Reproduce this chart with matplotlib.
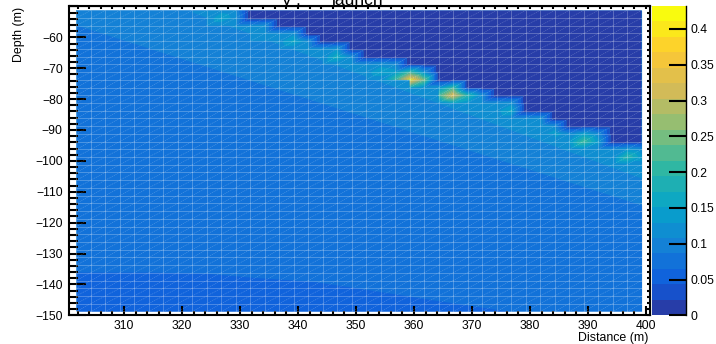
import numpy as np
import matplotlib as mpl
mpl.use('Agg')
import matplotlib.pyplot as plt
import matplotlib.tri as mtri
from matplotlib.collections import LineCollection
from matplotlib.colors import LinearSegmentedColormap, ListedColormap
from matplotlib.ticker import MultipleLocator
from matplotlib import rcParams as rc

rc.update({'font.size': 8.7, 'font.family': 'Liberation Sans'})

# mesh nodes of the simulation grid
mesh_x = 301.75 + 2.5 * np.arange(40)
mesh_y = -51.25 - 2.5 * np.arange(40)

# first wet row per column, from column 9 onward
first_col = 9
seabed_row = [0, 0, 0, 2, 2, 3, 3, 4, 5, 5, 6, 7, 7, 7, 8, 8, 10, 10, 11, 11, 12, 12, 14, 14, 15, 16, 16, 16, 18, 18, 18]

# values on the three rows just under the seabed
crest_1 = [.11, .12, .11, .11, .12, .11, .12, .11, .11, .13, .11, .11, .12, .11, .22, .12,
           .13, .22, .20, .11, .11, .12, .11, .12, .11, .11, .15, .11, .11, .13, .11]
crest_2 = [.11, .15, .12, .11, .12, .12, .16, .12, .11, .17, .12, .12, .15, .14, .42, .26,
           .22, .35, .13, .11, .12, .16, .11, .13, .15, .13, .22, .14, .11, .20, .14]
crest_3 = [.11, .11, .11, .11, .11, .11, .11, .11, .11, .11, .11, .11, .11, .22, .18, .12,
           .11, .16, .11, .11, .11, .11, .11, .11, .11, .11, .12, .11, .11, .12, .12]

# contour edges of the smooth part of the field
edge_45_x = [321.7, 399.25]
edge_45_y = [-51.8, -105.6]
edge_34_x = [301.75, 399.25]
edge_34_y = [-56.0, -114.3]
edge_23_x = [301.75, 314.5, 324.3, 332.2, 342.6, 350.7, 363.6, 376.6]
edge_23_y = [-136.0, -136.0, -136.4, -137.7, -139.0, -141.3, -145.1, -148.75]

zmax = 0.432
levels = np.linspace(0, zmax, 21)
depth_ticks = [-150, -140, -130, -120, -110, -100, -90, -80, -70, -60]
bar_ticks = [0, 0.05, 0.1, 0.15, 0.2, 0.25, 0.3, 0.35, 0.4]
bar_labels = ['0', '0.05', '0.1', '0.15', '0.2', '0.25', '0.3', '0.35', '0.4']

# ROOT kBird palette
bird = LinearSegmentedColormap.from_list('bird', [
    (0.2082, 0.1664, 0.5293), (0.0592, 0.3599, 0.8684), (0.0780, 0.5041, 0.8385),
    (0.0232, 0.6419, 0.7914), (0.1802, 0.7178, 0.6425), (0.5301, 0.7492, 0.4662),
    (0.8186, 0.7328, 0.3499), (0.9956, 0.7862, 0.1968), (0.9764, 0.9832, 0.0539)])
band_colors = [bird((i + 1) / 20) for i in range(20)]

W, H = 716, 344
fig = plt.figure(figsize=(W / 100, H / 100), dpi=100)
ax = fig.add_axes([69 / W, 1 - 315.3 / H, 581 / W, 309.3 / H])
ax.set_xlim(300.5, 400.7)
ax.set_ylim(-150, -49.85)

top = mesh_y[0]
bottom = mesh_y[-1]
ax.fill_between(mesh_x, bottom, top, color=band_colors[4], lw=0, zorder=1)
ax.fill_between(edge_45_x, edge_45_y, top, color=band_colors[5], lw=0, zorder=1.1)
ax.fill_between(edge_34_x, edge_34_y, bottom, color=band_colors[3], lw=0, zorder=1.2)
ax.fill_between(edge_23_x, edge_23_y, bottom, color=band_colors[2], lw=0, zorder=1.3)

# field near the seabed, nan where the smooth bands above show through
z = np.full((40, 40), np.nan)
for i, s in enumerate(seabed_row):
    c = first_col + i
    z[:s, c] = 0
    z[s, c] = crest_1[i]
    z[s + 1, c] = crest_2[i]
    z[s + 2, c] = crest_3[i]

xx, yy = np.meshgrid(mesh_x, mesh_y)
tris = []
for r in range(39):
    for c in range(39):
        ul = r * 40 + c
        ur = ul + 1
        ll = ul + 40
        lr = ll + 1
        tris.append([ll, ur, ul])
        tris.append([ll, lr, ur])
tris = np.array(tris)
zflat = z.ravel()
tri = mtri.Triangulation(xx.ravel(), yy.ravel(), tris, mask=np.isnan(zflat[tris]).any(axis=1))
ax.tricontourf(tri, np.nan_to_num(zflat), levels=levels, colors=band_colors, zorder=2, antialiased=True)

# the mesh itself
ax.vlines(mesh_x, bottom, top, color='white', lw=0.7, alpha=0.25, zorder=3)
ax.hlines(mesh_y, mesh_x[0], mesh_x[-1], color='white', lw=0.7, alpha=0.25, zorder=3)
diag = []
for r in range(39):
    for c in range(39):
        diag.append([(mesh_x[c], mesh_y[r + 1]), (mesh_x[c + 1], mesh_y[r])])
ax.add_collection(LineCollection(diag, colors='white', linewidths=0.4, alpha=0.3, linestyles=(0, (2, 1.5)), zorder=3))

for s in ax.spines.values():
    s.set_linewidth(1.5)
ax.xaxis.set_major_locator(MultipleLocator(10))
ax.xaxis.set_minor_locator(MultipleLocator(2))
ax.set_yticks(depth_ticks)
ax.yaxis.set_minor_locator(MultipleLocator(2))
ax.tick_params(axis='x', which='major', direction='in', length=6.5, width=1.5, pad=3.5)
ax.tick_params(axis='x', which='minor', direction='in', length=3, width=1.5)
ax.tick_params(axis='y', which='major', direction='in', length=12.5, width=1.5, pad=4.5)
ax.tick_params(axis='y', which='minor', direction='in', length=6.5, width=1.5)
ax.set_zorder(5)

top_axis = ax.secondary_xaxis('top')
top_axis.xaxis.set_major_locator(MultipleLocator(2))
top_axis.tick_params(direction='in', length=2, width=1.5, labeltop=False)
right_axis = ax.secondary_yaxis('right')
right_axis.yaxis.set_major_locator(MultipleLocator(2))
right_axis.tick_params(direction='in', length=2, width=1.5, labelright=False)

fig.text(648 / W, 1 - 341 / H, 'Distance (m)', ha='right', va='baseline', fontsize=8.9)
fig.text(19 / W, 1 - 7 / H, 'Depth (m)', ha='center', va='top', rotation=90, fontsize=8.9)

# title sits mostly above the canvas
fig.text(358 / W, 1 - 5 / H, 'launch', ha='center', va='baseline', fontsize=12.5)
fig.text(287 / W, 1 - 5 / H, 'V', ha='center', va='baseline', fontsize=12.5)
fig.text(298 / W, 1 - 5 / H, '.', ha='center', va='baseline', fontsize=12.5)

# palette bar
cax = fig.add_axes([652 / W, 1 - 315.3 / H, 34 / W, 309.3 / H])
cax.pcolormesh([0, 1], levels, np.arange(20).reshape(-1, 1), cmap=ListedColormap(band_colors), vmin=-0.5, vmax=19.5)
cax.set_xticks([])
cax.set_ylim(0, zmax)
cax.yaxis.tick_right()
cax.set_yticks(bar_ticks)
cax.set_yticklabels(bar_labels)
cax.tick_params(axis='y', direction='in', length=12.5, width=1.5, pad=3.5)
for k in ['left', 'top', 'bottom']:
    cax.spines[k].set_visible(False)
cax.spines['right'].set_linewidth(1.0)

plt.savefig('out.png', dpi=100)
plt.close()
